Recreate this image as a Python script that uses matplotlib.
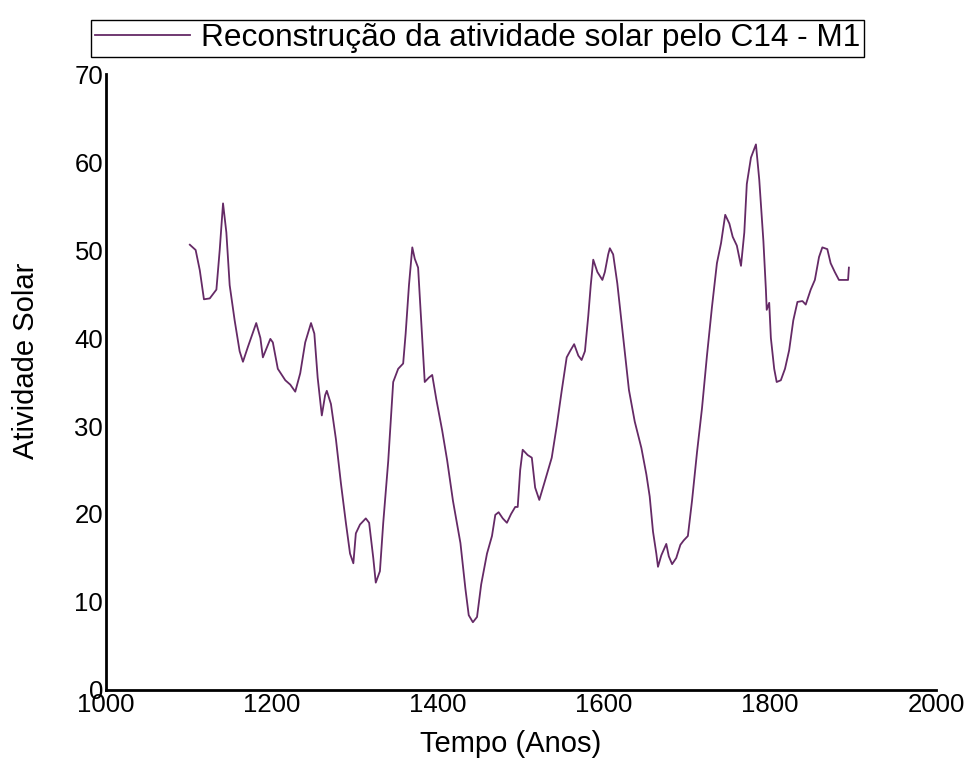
import matplotlib
matplotlib.use("Agg")
import matplotlib.pyplot as plt

# C14-based solar activity reconstruction (model M1)
years = [1101, 1108, 1113, 1118, 1125, 1133, 1137, 1141, 1145, 1149,
         1155, 1161, 1165, 1171, 1181, 1186, 1189, 1198, 1201, 1207,
         1216, 1222, 1228, 1234, 1240, 1247, 1251, 1255, 1260, 1264,
         1266, 1271, 1277, 1283, 1289, 1294, 1298, 1301, 1306, 1313,
         1317, 1322, 1325, 1330, 1334, 1340, 1346, 1352, 1358, 1361,
         1365, 1369, 1372, 1376, 1380, 1384, 1389, 1393, 1398, 1405,
         1411, 1418, 1427, 1433, 1437, 1442, 1447, 1452, 1459, 1465,
         1469, 1473, 1478, 1483, 1488, 1493, 1496, 1499, 1502, 1508,
         1513, 1517, 1522, 1528, 1537, 1543, 1549, 1555, 1559, 1564,
         1569, 1573, 1577, 1581, 1584, 1587, 1592, 1598, 1601, 1605,
         1607, 1611, 1616, 1622, 1630, 1637, 1645, 1651, 1655, 1659,
         1663, 1665, 1669, 1675, 1678, 1682, 1687, 1692, 1696, 1701,
         1706, 1712, 1718, 1724, 1730, 1736, 1741, 1746, 1751, 1755,
         1760, 1765, 1769, 1772, 1777, 1783, 1787, 1792, 1795, 1796,
         1799, 1801, 1805, 1808, 1813, 1818, 1823, 1828, 1833, 1839,
         1843, 1849, 1854, 1859, 1863, 1869, 1873, 1878, 1883, 1894,
         1895]
activity = [50.6, 50.0, 47.7, 44.4, 44.5, 45.5, 50.0, 55.3, 52.0, 46.0,
            42.0, 38.5, 37.3, 39.0, 41.7, 40.0, 37.8, 39.9, 39.5, 36.5,
            35.2, 34.7, 33.9, 36.0, 39.5, 41.7, 40.5, 35.5, 31.2, 33.5,
            34.0, 32.5, 28.5, 23.5, 19.0, 15.5, 14.4, 17.8, 18.8, 19.5,
            19.0, 15.0, 12.2, 13.5, 19.0, 26.0, 35.0, 36.5, 37.1, 40.5,
            46.0, 50.3, 49.0, 48.0, 41.5, 35.0, 35.5, 35.8, 33.0, 29.5,
            26.1, 21.5, 16.7, 11.5, 8.5, 7.7, 8.3, 12.0, 15.5, 17.5,
            19.9, 20.2, 19.5, 19.0, 20.0, 20.8, 20.8, 25.0, 27.3, 26.7,
            26.4, 23.0, 21.6, 23.5, 26.4, 30.0, 34.0, 37.8, 38.5, 39.3,
            38.0, 37.5, 38.5, 42.5, 46.0, 48.9, 47.5, 46.6, 47.5, 49.5,
            50.2, 49.5, 46.2, 41.0, 34.1, 30.5, 27.5, 24.5, 22.0, 18.0,
            15.5, 14.0, 15.3, 16.6, 15.2, 14.3, 15.0, 16.5, 17.0, 17.5,
            21.5, 27.0, 32.0, 38.0, 43.5, 48.5, 50.8, 54.0, 53.0, 51.5,
            50.5, 48.2, 52.0, 57.5, 60.5, 62.0, 58.0, 51.0, 45.5, 43.2,
            44.0, 40.0, 36.5, 35.0, 35.2, 36.5, 38.6, 42.0, 44.1, 44.2,
            43.8, 45.5, 46.6, 49.2, 50.3, 50.1, 48.5, 47.5, 46.6, 46.6,
            48.0]

x_ticks = [1000, 1200, 1400, 1600, 1800, 2000]
y_ticks = [0, 10, 20, 30, 40, 50, 60, 70]

plt.rcParams["font.family"] = ["Liberation Sans", "DejaVu Sans"]

fig = plt.figure(figsize=(9.68, 7.67), dpi=100)
ax = fig.add_axes([0.1095, 0.1004, 0.8575, 0.8031])

line, = ax.plot(years, activity, color="#652a66", lw=1.3,
                label="Reconstrução da atividade solar pelo C14 - M1")

ax.set_xlim(1000, 2000)
ax.set_ylim(0, 70)
ax.set_xticks(x_ticks)
ax.set_yticks(y_ticks)
ax.tick_params(length=0, labelsize=18.5, pad=2)

for side in ["top", "right"]:
    ax.spines[side].set_visible(False)
for side in ["left", "bottom"]:
    ax.spines[side].set_linewidth(2)
    ax.spines[side].set_color("black")

ax.set_xlabel("Tempo (Anos)", fontsize=21)
ax.set_ylabel("Atividade Solar", fontsize=21)
ax.xaxis.set_label_coords(0.487, -0.065)
ax.yaxis.set_label_coords(-0.08, 0.535)

leg = fig.legend(handles=[line], loc="upper center",
                 bbox_to_anchor=(0.493, 0.995), fontsize=22.8,
                 fancybox=False, framealpha=1, edgecolor="black",
                 handlelength=3.0, borderpad=0.12, handletextpad=0.35)
leg.get_frame().set_linewidth(1.0)

fig.savefig("out.png", dpi=100)
